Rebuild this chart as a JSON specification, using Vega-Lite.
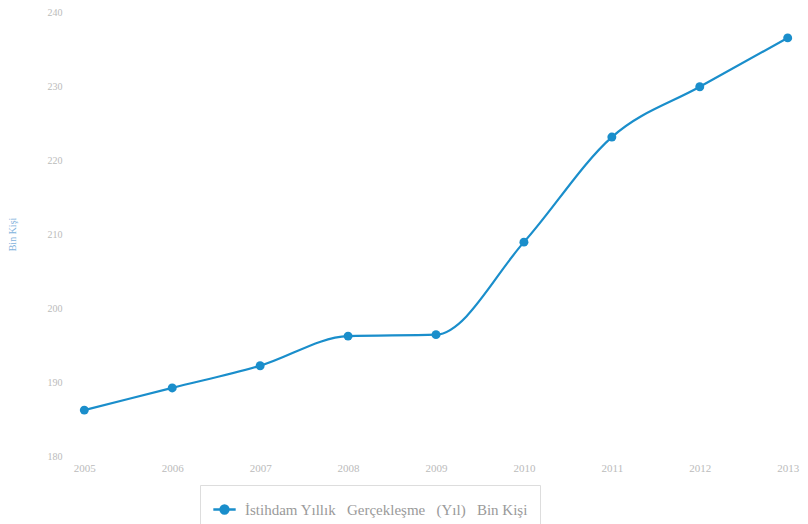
{
  "$schema": "https://vega.github.io/schema/vega-lite/v6.json",
  "width": 728,
  "height": 444,
  "autosize": {"type": "none"},
  "padding": {"left": 72, "top": 12, "right": 8, "bottom": 68},
  "background": "white",
  "data": {
    "values": [
      {"yil": "2005", "deger": 186.2, "seri": "İstihdam Yıllık  Gerçekleşme  (Yıl)  Bin Kişi"},
      {"yil": "2006", "deger": 189.2, "seri": "İstihdam Yıllık  Gerçekleşme  (Yıl)  Bin Kişi"},
      {"yil": "2007", "deger": 192.2, "seri": "İstihdam Yıllık  Gerçekleşme  (Yıl)  Bin Kişi"},
      {"yil": "2008", "deger": 196.2, "seri": "İstihdam Yıllık  Gerçekleşme  (Yıl)  Bin Kişi"},
      {"yil": "2009", "deger": 196.4, "seri": "İstihdam Yıllık  Gerçekleşme  (Yıl)  Bin Kişi"},
      {"yil": "2010", "deger": 208.9, "seri": "İstihdam Yıllık  Gerçekleşme  (Yıl)  Bin Kişi"},
      {"yil": "2011", "deger": 223.1, "seri": "İstihdam Yıllık  Gerçekleşme  (Yıl)  Bin Kişi"},
      {"yil": "2012", "deger": 229.9, "seri": "İstihdam Yıllık  Gerçekleşme  (Yıl)  Bin Kişi"},
      {"yil": "2013", "deger": 236.5, "seri": "İstihdam Yıllık  Gerçekleşme  (Yıl)  Bin Kişi"}
    ]
  },
  "encoding": {
    "x": {
      "field": "yil", "type": "ordinal",
      "scale": {"type": "point", "padding": 0.14},
      "axis": {"title": null, "labelAngle": 0, "domain": false, "ticks": false, "labelPadding": 6,
               "labelFont": "Liberation Serif", "labelFontSize": 11, "labelColor": "#bbbbbb"}
    },
    "y": {
      "field": "deger", "type": "quantitative",
      "scale": {"domain": [180, 240], "nice": false, "zero": false},
      "axis": {"title": "Bin Kişi", "titleColor": "#7fb2dc", "titleFont": "Liberation Serif",
               "titleFontSize": 10, "titleFontWeight": "normal", "titlePadding": 30,
               "values": [180, 190, 200, 210, 220, 230, 240],
               "grid": false, "domain": false, "ticks": false, "labelPadding": 10,
               "labelFont": "Liberation Serif", "labelFontSize": 10, "labelColor": "#bbbbbb"}
    },
    "color": {
      "field": "seri", "type": "nominal",
      "scale": {"range": ["#1a8ecb"]},
      "legend": {"title": null, "orient": "none", "legendX": 128, "legendY": 473, "direction": "horizontal",
                 "labelFont": "Liberation Serif", "labelFontSize": 15, "labelColor": "#9a9a9a",
                 "labelExpr": "replace(replace(replace(datum.label, '  ', '\u00a0\u00a0\u00a0'), '  ', '\u00a0\u00a0\u00a0'), '  ', '\u00a0\u00a0\u00a0')",
                 "strokeColor": "#dddddd", "padding": 12, "labelOffset": 8,
                 "symbolType": "M-1,0L1,0M0.35,0A0.35,0.35,0,1,1,-0.35,0A0.35,0.35,0,1,1,0.35,0",
                 "symbolSize": 500, "symbolStrokeWidth": 2.5, "symbolFillColor": "#1a8ecb", "symbolStrokeColor": "#1a8ecb",
                 "labelLimit": 420}
    }
  },
  "layer": [
    {"mark": {"type": "line", "interpolate": "monotone", "strokeWidth": 2.2}},
    {"mark": {"type": "point", "filled": true, "size": 80, "opacity": 1}}
  ],
  "config": {"view": {"stroke": null}}
}
